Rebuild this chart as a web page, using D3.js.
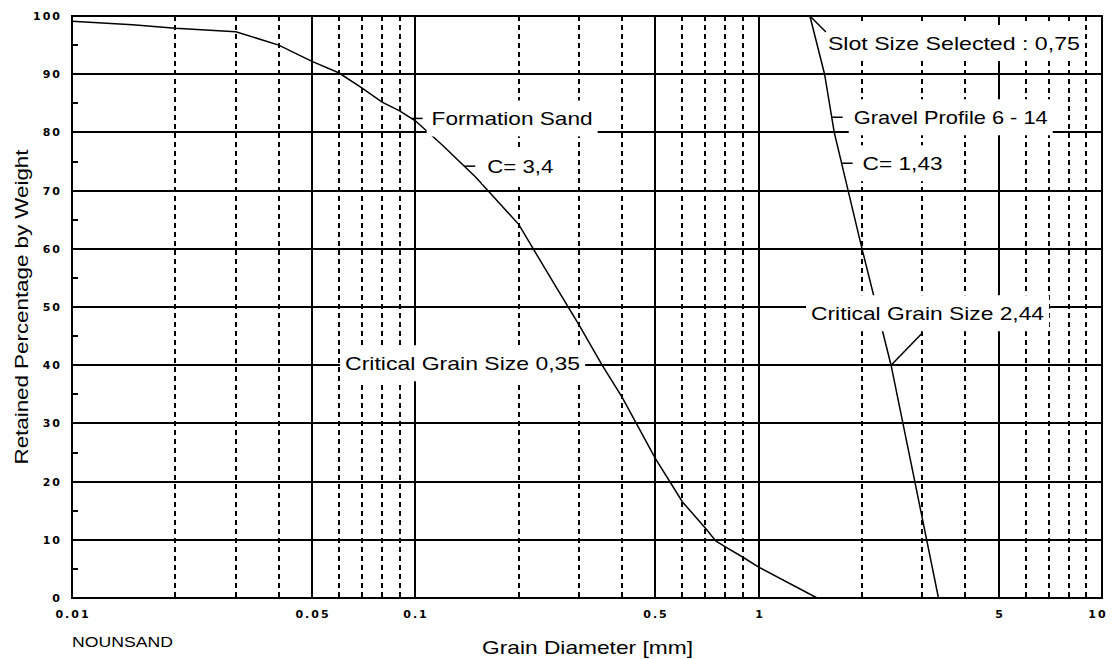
<!DOCTYPE html>
<html>
<head>
<meta charset="utf-8">
<script src="https://cdn.jsdelivr.net/npm/d3@7"></script>
<style>
body { margin: 0; background: #fff; }
text { font-family: "Liberation Sans", Arial, sans-serif; fill: #000; }
.tick-label { font-family: "DejaVu Sans", sans-serif; font-weight: bold; font-size: 11px; letter-spacing: 2px; }
.note { font-size: 19px; }
</style>
</head>
<body>
<svg id="chart" width="1120" height="659"></svg>
<script>

// grid / axis values
var xTickValues = [0.01, 0.05, 0.1, 0.5, 1, 5, 10];
var xTickLabels = ["0.01", "0.05", "0.1", "0.5", "1", "5", "10"];
var xMajor = [0.05, 0.1, 0.5, 1, 5];
var xMinor = [0.02, 0.03, 0.04, 0.06, 0.07, 0.08, 0.09,
	0.2, 0.3, 0.4, 0.6, 0.7, 0.8, 0.9,
	2, 3, 4, 6, 7, 8, 9];
var yTickValues = [0, 10, 20, 30, 40, 50, 60, 70, 80, 90, 100];
var yMinor = [5, 15, 25, 35, 45, 55, 65, 75, 85, 95];

// formation sand sieve curve (mm, % retained)
var sandDiameter = [0.01, 0.015, 0.02, 0.03, 0.04, 0.05, 0.06, 0.07, 0.08, 0.09, 0.1,
	0.12, 0.15, 0.2, 0.25, 0.3, 0.35, 0.4, 0.5, 0.6, 0.7, 0.75, 0.8, 0.9, 1.0, 1.48];
var sandRetained = [99.1, 98.5, 97.9, 97.3, 95.0, 92.2, 90.2, 87.6, 85.2, 83.7, 82.0,
	77.8, 72.3, 64.2, 54.6, 46.9, 40.0, 34.5, 24.0, 16.5, 12.0, 9.8, 8.8, 7.0, 5.3, 0];

// gravel pack profile 6 - 14
var gravelDiameter = [1.41, 1.556, 1.66, 2.0, 2.43, 2.85, 3.34];
var gravelRetained = [100, 90, 80, 60, 40, 20, 0];

var svg = d3.select("#chart");

var x = d3.scaleLog().domain([0.01, 10]).range([72, 1102]);
var y = d3.scaleLinear().domain([0, 100]).range([598, 16]);

var px = function(v) { return Math.round(x(v)); };
var py = function(v) { return Math.round(y(v)); };

// diameter where a curve reaches a given percentage (log interpolation)
var diamAt = function(diams, pcts, p) {
	for (var i = 0; i < pcts.length - 1; i++) {
		var a = pcts[i], b = pcts[i + 1];
		if ((p <= a && p >= b) || (p >= a && p <= b)) {
			var t = (p - a) / (b - a);
			return Math.exp(Math.log(diams[i]) + t * (Math.log(diams[i + 1]) - Math.log(diams[i])));
		}
	}
	return diams[diams.length - 1];
};

var grid = svg.append("g");

// horizontal grid
grid.selectAll("line.h").data(yTickValues.slice(1, -1)).enter().append("line")
	.attr("x1", px(0.01)).attr("x2", px(10))
	.attr("y1", py).attr("y2", py)
	.attr("stroke", "#000").attr("stroke-width", 2);

// vertical grid
grid.selectAll("line.major").data(xMajor).enter().append("line")
	.attr("x1", px).attr("x2", px)
	.attr("y1", py(100)).attr("y2", py(0))
	.attr("stroke", "#000").attr("stroke-width", 2);

grid.selectAll("line.minor").data(xMinor).enter().append("line")
	.attr("x1", px).attr("x2", px)
	.attr("y1", py(100)).attr("y2", py(0))
	.attr("stroke", "#000").attr("stroke-width", 2)
	.attr("stroke-dasharray", "5,4");

// minor y ticks on the left axis
grid.selectAll("line.ym").data(yMinor).enter().append("line")
	.attr("x1", px(0.01)).attr("x2", px(0.01) + 6)
	.attr("y1", py).attr("y2", py)
	.attr("stroke", "#000").attr("stroke-width", 2);

// frame
svg.append("rect")
	.attr("x", px(0.01)).attr("y", py(100))
	.attr("width", px(10) - px(0.01)).attr("height", py(0) - py(100))
	.attr("fill", "none").attr("stroke", "#000").attr("stroke-width", 2);

// tick labels
svg.selectAll("text.yl").data(yTickValues).enter().append("text")
	.attr("class", "tick-label")
	.attr("x", 62).attr("y", function(d) { return py(d) + 4; })
	.attr("text-anchor", "end")
	.text(function(d) { return d; });

svg.selectAll("text.xl").data(xTickValues).enter().append("text")
	.attr("class", "tick-label")
	.attr("x", function(d, i) { return px(d) + 1 - (i == xTickValues.length - 1 ? 5 : 0); })
	.attr("y", 618)
	.attr("text-anchor", "middle")
	.text(function(d, i) { return xTickLabels[i]; });

// axis titles
svg.append("text")
	.attr("class", "note")
	.attr("transform", "translate(28,307) rotate(-90)")
	.attr("text-anchor", "middle")
	.attr("textLength", 315).attr("lengthAdjust", "spacingAndGlyphs")
	.text("Retained Percentage by Weight");

svg.append("text")
	.attr("class", "note")
	.attr("x", 482).attr("y", 654)
	.attr("textLength", 211).attr("lengthAdjust", "spacingAndGlyphs")
	.text("Grain Diameter [mm]");

svg.append("text")
	.attr("x", 72).attr("y", 647)
	.style("font-size", "15px")
	.attr("textLength", 101).attr("lengthAdjust", "spacingAndGlyphs")
	.text("NOUNSAND");

// curves
var line = d3.line()
	.x(function(d) { return x(d[0]); })
	.y(function(d) { return y(d[1]); });

svg.append("path")
	.datum(d3.zip(sandDiameter, sandRetained))
	.attr("d", line)
	.attr("fill", "none").attr("stroke", "#000").attr("stroke-width", 1.5);

svg.append("path")
	.datum(d3.zip(gravelDiameter, gravelRetained))
	.attr("d", line)
	.attr("fill", "none").attr("stroke", "#000").attr("stroke-width", 1.5);

// annotations
var notes = svg.append("g");

var addNote = function(label, left, cy, width) {
	notes.append("rect")
		.attr("x", left - 5).attr("y", cy - 18)
		.attr("width", width + 10).attr("height", 36)
		.attr("fill", "#fff");
	notes.append("text")
		.attr("class", "note")
		.attr("x", left).attr("y", cy + 7)
		.attr("textLength", width).attr("lengthAdjust", "spacingAndGlyphs")
		.text(label);
};

var leader = function(x1, y1, x2, y2) {
	notes.append("line")
		.attr("x1", x1).attr("y1", y1).attr("x2", x2).attr("y2", y2)
		.attr("stroke", "#000").attr("stroke-width", 1.5);
};

// curve label with a short tick off the curve
var curveNote = function(diams, pcts, p, label, width, gap) {
	var ax = x(diamAt(diams, pcts, p)), ay = y(p);
	addNote(label, ax + gap, ay, width);
	leader(ax, ay, ax + 11, ay);
};

curveNote(sandDiameter, sandRetained, 82.4, "Formation Sand", 161, 20);
curveNote(sandDiameter, sandRetained, 74.2, "C= 3,4", 66, 23);
curveNote(gravelDiameter, gravelRetained, 82.6, "Gravel Profile 6 - 14", 194, 22);
curveNote(gravelDiameter, gravelRetained, 74.7, "C= 1,43", 80, 21);

// slot size, from the top of the gravel curve
var topX = x(gravelDiameter[0]), topY = y(gravelRetained[0]);
addNote("Slot Size Selected : 0,75", topX + 18, topY + 27, 252);
leader(topX, topY, topX + 16, topY + 16);

// critical grain size of the sand, on the 40 % line
var sand40 = x(diamAt(sandDiameter, sandRetained, 40));
addNote("Critical Grain Size 0,35", sand40 - 257, y(40) - 2, 235);

// critical grain size of the gravel, label with a diagonal leader
var grav40 = x(diamAt(gravelDiameter, gravelRetained, 40));
addNote("Critical Grain Size 2,44", grav40 - 80, y(40) - 52, 233);
leader(grav40, y(40), grav40 + 31, y(40) - 32);

</script>
</body>
</html>
